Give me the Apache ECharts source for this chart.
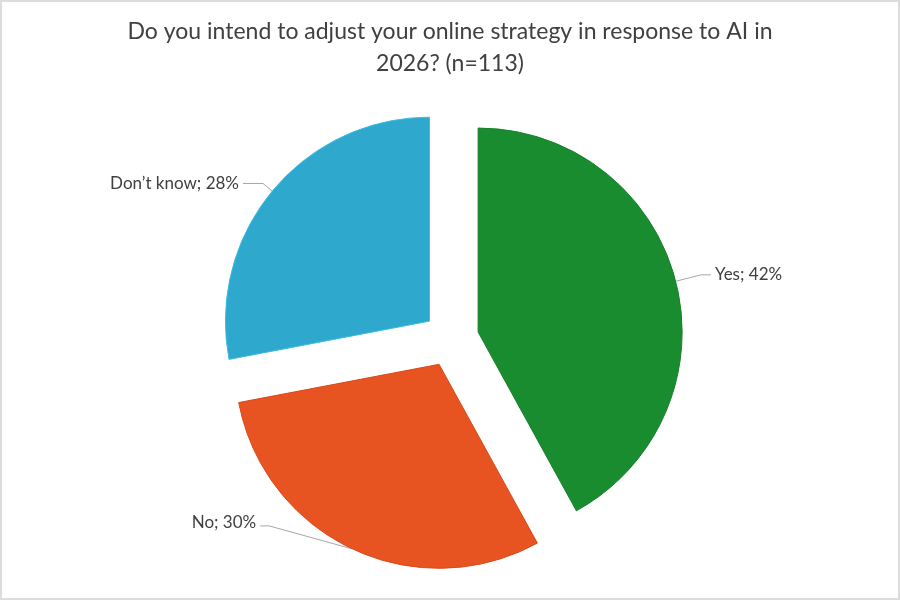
<!DOCTYPE html>
<html>
<head>
<meta charset="utf-8">
<script src="https://cdn.jsdelivr.net/npm/echarts@6/dist/echarts.min.js"></script>
<style>
  html, body { margin: 0; padding: 0; background: #fff; }
  #chart { width: 900px; height: 600px; box-sizing: border-box; border: 2px solid #dcdcdc; }
</style>
</head>
<body>
<div id="chart"></div>
<script>
// data
const categories = ["Yes", "No", "Don\u2019t know"];
const shares = [42, 30, 28];
const colours = ["#1a8c30", "#e85421", "#2ea8cd"];
const borders = ["#15802a", "#d84a18", "#3cbde0"];
// leader line lengths per slice
const lineLen = [26, 24, 12];
const lineLen2 = [10, 12, 20];

const chart = echarts.init(document.getElementById("chart"));

const option = {
  animation: false,
  title: {
    text: "Do you intend to adjust your online strategy in response to AI in\n2026? (n=113)",
    left: "center",
    top: 9,
    textStyle: {
      fontFamily: "Lato",
      fontWeight: "normal",
      fontSize: 23,
      lineHeight: 32,
      color: "#404040",
    },
  },
  series: [
    {
      type: "pie",
      center: [449, 337],
      radius: 204,
      startAngle: 90,
      clockwise: true,
      selectedMode: "multiple",
      selectedOffset: 28,
      emphasis: { disabled: true },
      label: {
        show: true,
        position: "outside",
        formatter: "{b}; {c}%",
        fontFamily: "Lato",
        fontSize: 17,
        color: "#404040",
        distanceToLabelLine: 4,
      },
      labelLine: {
        show: true,
        lineStyle: { color: "#a6a6a6", width: 1 },
      },
      // the "No" label sits up and to the left of its slice, as in the original
      labelLayout: function (params) {
        if (params.dataIndex !== 1 || !params.labelLinePoints) return {};
        const p0 = params.labelLinePoints[0];
        const r = params.labelRect;
        const right = r.x + r.width;
        const cy = r.y + r.height / 2;
        return {
          dx: p0[0] - 96 - right,
          dy: p0[1] - 26 - cy,
          labelLinePoints: [
            [p0[0], p0[1]],
            [p0[0] - 83, p0[1] - 23],
            [p0[0] - 92, p0[1] - 23],
          ],
        };
      },
      data: categories.map((name, i) => ({
        name: name,
        value: shares[i],
        selected: true,
        itemStyle: { color: colours[i], borderColor: borders[i], borderWidth: 1 },
        labelLine: { length: lineLen[i], length2: lineLen2[i] },
      })),
    },
  ],
};

chart.setOption(option);
</script>
</body>
</html>
